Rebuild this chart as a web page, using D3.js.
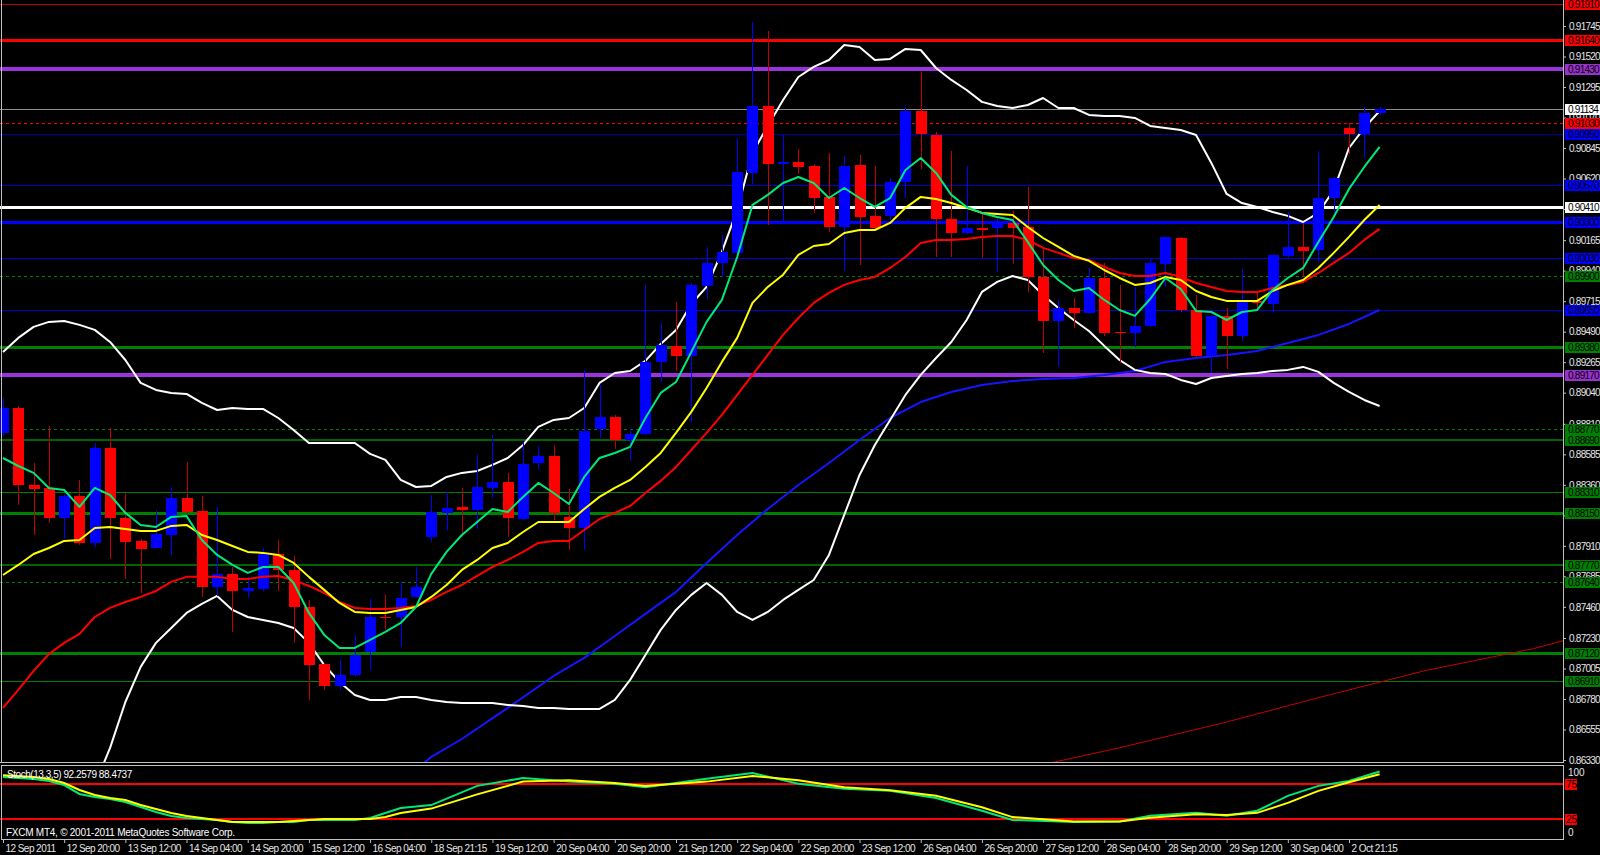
<!DOCTYPE html>
<html><head><meta charset="utf-8">
<script src="https://cdn.jsdelivr.net/npm/d3@7"></script>
<style>html,body{margin:0;padding:0;background:#000;overflow:hidden}svg{display:block}</style>
</head><body>
<svg id="chart" width="1600" height="855"></svg>
<script>
// ---------------- DATA ----------------
const timeTickBars = [0,4,8,12,16,20,24,28,32,36,40,44,48,52,56,60,64,68,72,76,80,84,88];
const timeLabels = ["12 Sep 2011","12 Sep 20:00","13 Sep 12:00","14 Sep 04:00","14 Sep 20:00","15 Sep 12:00","16 Sep 04:00","18 Sep 21:15","19 Sep 12:00","20 Sep 04:00","20 Sep 20:00","21 Sep 12:00","22 Sep 04:00","22 Sep 20:00","23 Sep 12:00","26 Sep 04:00","26 Sep 20:00","27 Sep 12:00","28 Sep 04:00","28 Sep 20:00","29 Sep 12:00","30 Sep 04:00","2 Oct 21:15"];
const priceTicks = [0.91745,0.91520,0.91295,0.91070,0.90845,0.90620,0.90395,0.90165,0.89940,0.89715,0.89490,0.89265,0.89040,0.88810,0.88585,0.88360,0.88135,0.87910,0.87685,0.87460,0.87230,0.87005,0.86780,0.86555,0.86330];

const opens = [0.88743,0.88927,0.88359,0.88337,0.88116,0.88278,0.87931,0.88632,0.88116,0.87946,
0.87894,0.87990,0.88263,0.88167,0.87607,0.87703,0.87577,0.87592,0.87850,0.87732,
0.87459,0.87039,0.86876,0.86958,0.87127,0.87385,0.87385,0.87533,0.87976,0.88153,
0.88197,0.88175,0.88337,0.88381,0.88108,0.88521,0.88573,0.88123,0.88042,0.88772,
0.88861,0.88691,0.88735,0.89267,0.89385,0.89311,0.89827,0.89997,0.90071,0.90661,
0.91155,0.90727,0.90742,0.90712,0.90484,0.90262,0.90720,0.90344,0.90344,0.90594,
0.91118,0.90941,0.90321,0.90218,0.90255,0.90255,0.90292,0.90262,0.89894,0.89569,
0.89665,0.89628,0.89886,0.89488,0.89481,0.89532,0.89990,0.90181,0.89650,0.89311,
0.89606,0.89458,0.89717,0.89694,0.90049,0.90115,0.90093,0.90476,0.90993,0.90949,
0.91103];
const highs = [0.89001,0.88942,0.88521,0.88794,0.88293,0.88396,0.88669,0.88780,0.88300,0.87961,
0.88175,0.88344,0.88529,0.88278,0.88197,0.87754,0.87681,0.87894,0.87953,0.87835,
0.87511,0.87046,0.87076,0.87253,0.87518,0.87548,0.87644,0.87754,0.88285,0.88308,
0.88337,0.88581,0.88728,0.88448,0.88676,0.88647,0.88654,0.88330,0.89208,0.89097,
0.88876,0.88772,0.89835,0.89554,0.89709,0.89849,0.90115,0.90203,0.90919,0.91775,
0.91708,0.90941,0.90838,0.90727,0.90808,0.90786,0.90794,0.90712,0.90624,0.91148,
0.91406,0.90963,0.90823,0.90712,0.90373,0.90336,0.90381,0.90557,0.90115,0.89724,
0.89739,0.89960,0.89997,0.89835,0.89820,0.90026,0.90196,0.90189,0.89761,0.89613,
0.89665,0.89953,0.89790,0.90063,0.90373,0.90292,0.90823,0.90631,0.91030,0.91148,
0.91148];
const lows = [0.88721,0.88212,0.87990,0.88079,0.87961,0.87917,0.87902,0.87813,0.87666,0.87562,
0.87887,0.87843,0.88145,0.87533,0.87540,0.87275,0.87526,0.87577,0.87577,0.87194,
0.86773,0.86847,0.86847,0.86943,0.86994,0.87290,0.87164,0.87526,0.87939,0.88020,
0.87976,0.88035,0.88263,0.87976,0.88101,0.88470,0.88101,0.87880,0.87880,0.88706,
0.88625,0.88536,0.88721,0.89119,0.89200,0.88824,0.89731,0.89894,0.90063,0.90580,
0.90277,0.90299,0.90653,0.90366,0.90226,0.89938,0.89982,0.90248,0.90314,0.90476,
0.90690,0.90041,0.90041,0.90211,0.90034,0.89931,0.89990,0.89783,0.89333,0.89230,
0.89517,0.89621,0.89458,0.89259,0.89377,0.89525,0.89820,0.89635,0.89303,0.89185,
0.89215,0.89421,0.89650,0.89628,0.90034,0.89894,0.90004,0.90336,0.90801,0.90771,
0.91089];
const closes = [0.88927,0.88359,0.88330,0.88116,0.88278,0.87931,0.88632,0.88116,0.87939,0.87887,
0.87998,0.88263,0.88160,0.87607,0.87703,0.87577,0.87599,0.87850,0.87732,0.87459,
0.87031,0.86876,0.86958,0.87105,0.87385,0.87378,0.87526,0.87607,0.88160,0.88190,
0.88175,0.88344,0.88381,0.88116,0.88514,0.88573,0.88153,0.88042,0.88758,0.88861,
0.88691,0.88735,0.89267,0.89392,0.89311,0.89835,0.89997,0.90078,0.90668,0.91155,
0.90727,0.90742,0.90705,0.90476,0.90262,0.90712,0.90336,0.90255,0.90594,0.91118,
0.90949,0.90321,0.90218,0.90255,0.90240,0.90292,0.90255,0.89894,0.89569,0.89665,
0.89628,0.89886,0.89481,0.89481,0.89532,0.89997,0.90189,0.89650,0.89311,0.89606,
0.89458,0.89709,0.89702,0.90056,0.90115,0.90085,0.90476,0.90624,0.90949,0.91103,
0.91134];

const maFast = [0.88558,0.88499,0.88448,0.88337,0.88322,0.88197,0.88337,0.88285,0.88153,0.88064,
0.88049,0.88123,0.88130,0.87953,0.87843,0.87769,0.87710,0.87754,0.87754,0.87636,
0.87415,0.87253,0.87157,0.87157,0.87216,0.87275,0.87341,0.87459,0.87703,0.87865,
0.87990,0.88086,0.88182,0.88160,0.88271,0.88374,0.88300,0.88219,0.88418,0.88558,
0.88595,0.88640,0.88853,0.89038,0.89119,0.89340,0.89562,0.89724,0.90041,0.90425,
0.90499,0.90587,0.90631,0.90587,0.90476,0.90550,0.90476,0.90410,0.90476,0.90683,
0.90771,0.90661,0.90499,0.90410,0.90366,0.90336,0.90314,0.90152,0.89982,0.89871,
0.89790,0.89812,0.89724,0.89650,0.89606,0.89731,0.89886,0.89805,0.89643,0.89635,
0.89576,0.89635,0.89650,0.89798,0.89886,0.89960,0.90152,0.90336,0.90543,0.90705,
0.90853];
const maMid = [0.87695,0.87769,0.87850,0.87894,0.87946,0.87953,0.88042,0.88049,0.88035,0.88020,
0.88020,0.88057,0.88064,0.87990,0.87953,0.87909,0.87865,0.87858,0.87843,0.87784,
0.87681,0.87585,0.87489,0.87422,0.87415,0.87415,0.87437,0.87459,0.87533,0.87621,
0.87732,0.87806,0.87894,0.87931,0.88012,0.88086,0.88086,0.88086,0.88182,0.88271,
0.88337,0.88396,0.88492,0.88595,0.88743,0.88898,0.89075,0.89267,0.89444,0.89702,
0.89820,0.89910,0.90056,0.90122,0.90137,0.90218,0.90240,0.90240,0.90292,0.90403,
0.90484,0.90469,0.90439,0.90403,0.90366,0.90358,0.90351,0.90262,0.90181,0.90115,
0.90049,0.90013,0.89945,0.89886,0.89835,0.89849,0.89894,0.89871,0.89790,0.89746,
0.89717,0.89717,0.89717,0.89790,0.89835,0.89871,0.89960,0.90071,0.90189,0.90314,
0.90425];
const maSlow = [0.86714,0.86847,0.86987,0.87112,0.87194,0.87260,0.87385,0.87452,0.87496,0.87533,
0.87577,0.87644,0.87681,0.87681,0.87681,0.87666,0.87666,0.87681,0.87688,0.87658,
0.87614,0.87562,0.87496,0.87452,0.87444,0.87444,0.87452,0.87467,0.87511,0.87570,
0.87621,0.87688,0.87754,0.87806,0.87865,0.87931,0.87946,0.87946,0.88027,0.88108,
0.88153,0.88204,0.88300,0.88389,0.88492,0.88617,0.88743,0.88876,0.89023,0.89171,
0.89318,0.89466,0.89591,0.89702,0.89776,0.89835,0.89871,0.89894,0.89960,0.90041,
0.90144,0.90167,0.90167,0.90174,0.90189,0.90196,0.90196,0.90167,0.90108,0.90071,
0.90034,0.90019,0.89968,0.89923,0.89901,0.89901,0.89923,0.89894,0.89849,0.89820,
0.89790,0.89783,0.89783,0.89812,0.89835,0.89857,0.89923,0.89997,0.90071,0.90167,
0.90248];
const bbUpper = [0.89340,0.89444,0.89525,0.89562,0.89569,0.89540,0.89503,0.89414,0.89281,0.89112,
0.89060,0.89038,0.89031,0.88964,0.88912,0.88927,0.88920,0.88920,0.88853,0.88765,
0.88669,0.88669,0.88669,0.88669,0.88588,0.88544,0.88396,0.88344,0.88352,0.88418,
0.88448,0.88462,0.88507,0.88558,0.88654,0.88787,0.88839,0.88853,0.88927,0.89112,
0.89185,0.89200,0.89274,0.89399,0.89503,0.89694,0.89820,0.90078,0.90388,0.90808,
0.91008,0.91199,0.91369,0.91443,0.91494,0.91605,0.91590,0.91494,0.91502,0.91576,
0.91568,0.91435,0.91347,0.91273,0.91185,0.91155,0.91140,0.91162,0.91214,0.91140,
0.91140,0.91089,0.91081,0.91081,0.91067,0.91008,0.90993,0.90978,0.90941,0.90735,
0.90506,0.90439,0.90410,0.90373,0.90344,0.90299,0.90366,0.90535,0.90845,0.90993,
0.91118];
const bbLower = [null,null,null,null,null,null,0.86146,0.86419,0.86758,0.87017,
0.87194,0.87304,0.87415,0.87481,0.87540,0.87437,0.87385,0.87363,0.87341,0.87304,
0.87194,0.87031,0.86906,0.86810,0.86773,0.86773,0.86795,0.86795,0.86773,0.86758,
0.86751,0.86751,0.86751,0.86736,0.86729,0.86714,0.86714,0.86707,0.86707,0.86707,
0.86773,0.86921,0.87105,0.87290,0.87437,0.87548,0.87636,0.87548,0.87422,0.87363,
0.87422,0.87511,0.87585,0.87658,0.87843,0.88138,0.88433,0.88654,0.88839,0.89023,
0.89171,0.89296,0.89414,0.89576,0.89783,0.89857,0.89901,0.89871,0.89761,0.89665,
0.89576,0.89495,0.89385,0.89281,0.89208,0.89185,0.89178,0.89134,0.89104,0.89148,
0.89163,0.89178,0.89185,0.89200,0.89208,0.89230,0.89193,0.89112,0.89045,0.88986,
0.88942];
const maLongBars = [27,28,30,33,36,38,40,42,44,46,48,50,52,54,56,58,60,62,64,66,68,70,72,74,76,78,80,82,84,86,88,90];
const maLongVals = [0.86257,0.86353,0.86485,0.86714,0.86950,0.87083,0.87245,0.87408,0.87570,0.87784,0.87990,0.88182,0.88359,0.88521,0.88691,0.88853,0.88971,0.89045,0.89097,0.89126,0.89141,0.89148,0.89171,0.89200,0.89267,0.89296,0.89318,0.89348,0.89407,0.89466,0.89547,0.89650];
const maShiftBars = [67,73,80,86,93,100,103];
const maShiftVals = [0.86272,0.86420,0.86610,0.86790,0.86990,0.87150,0.87240];

const stochKBars = [0,2,3,4,5,6,7,8,9,10,11,12,13,14,15,16,17,18,19,20,22,23,24,25,26,28,31,34,37,40,42,46,49,52,55,58,61,64,66,70,73,75,78,80,82,84,86,88,90];
const stochKVals = [84.5,81.7,78.9,73.2,60.6,56.3,53.5,49.3,42.3,35.2,29.6,26.8,25.4,23.9,21.1,19.7,19.7,21.1,21.1,23.9,23.9,23.9,26.8,33.8,40.8,45,72,83,78,75,70,82,90,75,68,65,55,37,24,21,22,30,34,30,37,58,72,79,92.26];
const stochDBars = [0,2,3,4,5,6,7,8,9,10,11,12,13,14,15,18,19,20,21,24,25,26,28,31,34,37,40,42,46,49,52,55,58,61,64,66,70,73,75,78,80,82,84,86,88,90];
const stochDVals = [87,84.5,81.7,76,66.2,59.2,54.9,52.1,45.1,39.4,33.8,29.6,26.8,23.9,21.1,21.1,22.5,23.9,25.4,25.4,28.2,33.8,40,60,78,80,76,72,78,86,80,70,66,58,42,28,22,22,27,32,31,34,48,65,77,88.47];

const levelPrices = [0.91910,0.91640,0.91430,0.91030,0.90950,0.90570,0.90410,0.90300,0.90030,0.89900,0.89650,0.89380,0.89170,0.88770,0.88690,0.88310,0.88150,0.87770,0.87640,0.87120,0.86910];
const levelKinds  = ["redThin","red","purple","redDash","navy","blue1","white","blue3","blue1","greenDash","blue1","green3","purple","greenDash","green2","green1","green3","green2","greenDash","green3","green1"];
const bidPrice = 0.91134;
const stochLevels = [75,25];
const stochScaleLabels = [100,0];
const stochParams = "Stoch(13,3,5)";
const stochLast = [92.2579, 88.4737];

// ---------------- STYLES ----------------
const kindStyle = {
  redThin:{c:"#c00000",w:1,d:null,bg:"#ff0000"},
  red:{c:"#ff0000",w:3,d:null,bg:"#ff0000"},
  purple:{c:"#9933dd",w:4,d:null,bg:"#9932cc"},
  redDash:{c:"#ff0000",w:1,d:"3,3",bg:"#ff0000"},
  navy:{c:"#0000a8",w:1,d:null,bg:"#0000ff"},
  blue1:{c:"#0000d0",w:1,d:null,bg:"#0000ff"},
  blue3:{c:"#0000ff",w:3,d:null,bg:"#0000ff"},
  white:{c:"#ffffff",w:3,d:null,bg:"#ffffff"},
  greenDash:{c:"#008000",w:1,d:"3,3",bg:"#008000"},
  green1:{c:"#008000",w:1,d:null,bg:"#008000"},
  green2:{c:"#006400",w:2,d:null,bg:"#008000"},
  green3:{c:"#008000",w:3,d:null,bg:"#008000"}
};
const FONT = "Liberation Sans, Arial, sans-serif";
const AXIS_TXT = "#e6e6e6";
const FRAME = "#c0c0c0";

// ---------------- LAYOUT ----------------
const plotR = 1563, mainB = 762, stT = 765, stB = 839;
const svg = d3.select("#chart");
svg.append("rect").attr("width",1600).attr("height",855).attr("fill","#000");

const x = d3.scaleLinear().domain([0,88]).range([3,1349]);
const y = d3.scaleLinear().domain([0.86330,0.91745]).range([760,26]);
const ys = d3.scaleLinear().domain([0,100]).range([837,766]);

const defs = svg.append("defs");
defs.append("clipPath").attr("id","clipMain").append("rect").attr("x",0).attr("y",0).attr("width",plotR).attr("height",mainB);
defs.append("clipPath").attr("id","clipStoch").append("rect").attr("x",0).attr("y",stT).attr("width",plotR).attr("height",stB-stT);

const gMain = svg.append("g").attr("clip-path","url(#clipMain)");

levelPrices.forEach((p,i)=>{
  const s = kindStyle[levelKinds[i]];
  const yy = Math.round(y(p))+(s.w%2?0.5:0);
  gMain.append("line").attr("x1",0).attr("x2",plotR).attr("y1",yy).attr("y2",yy)
    .attr("stroke",s.c).attr("stroke-width",s.w).attr("stroke-dasharray",s.d);
});
gMain.append("line").attr("x1",0).attr("x2",plotR).attr("y1",Math.round(y(bidPrice))+0.5).attr("y2",Math.round(y(bidPrice))+0.5)
  .attr("stroke","#8c8c8c").attr("stroke-width",1);

const lineArr = d3.line().defined(d=>d[1]!=null).x(d=>x(d[0])).y(d=>y(d[1]));
function drawSeries(vals, color, w){
  gMain.append("path").datum(vals.map((v,i)=>[i,v])).attr("d",lineArr)
    .attr("fill","none").attr("stroke",color).attr("stroke-width",w).attr("stroke-linejoin","round");
}
function drawPairs(bars, vals, color, w){
  gMain.append("path").datum(bars.map((b,i)=>[b,vals[i]])).attr("d",lineArr)
    .attr("fill","none").attr("stroke",color).attr("stroke-width",w).attr("stroke-linejoin","round");
}

drawPairs(maShiftBars, maShiftVals, "#c80000", 1);
drawPairs(maLongBars, maLongVals, "#1515ff", 2);
drawSeries(bbUpper, "#ffffff", 2);
drawSeries(bbLower, "#ffffff", 2);

const gC = gMain.append("g");
opens.forEach((o,i)=>{
  const c = closes[i], up = c>=o;
  const cx = Math.round(x(i));
  gC.append("line").attr("x1",cx+0.5).attr("x2",cx+0.5).attr("y1",y(highs[i])).attr("y2",y(lows[i]))
    .attr("stroke", up?"#0000ff":"#c00000").attr("stroke-width",1);
  const top = Math.round(y(Math.max(o,c))), bot = Math.round(y(Math.min(o,c)));
  gC.append("rect").attr("x",cx-5).attr("y",top).attr("width",11).attr("height",Math.max(1,bot-top))
    .attr("fill", up?"#0000ff":"#ff0000");
});

drawSeries(maSlow, "#ff0000", 2);
drawSeries(maMid, "#ffff00", 2);
drawSeries(maFast, "#00e878", 2);

// ---------------- STOCH PANEL ----------------
const gS = svg.append("g").attr("clip-path","url(#clipStoch)");
stochLevels.forEach(v=>{
  gS.append("line").attr("x1",0).attr("x2",plotR).attr("y1",Math.round(ys(v))).attr("y2",Math.round(ys(v)))
    .attr("stroke","#ff0000").attr("stroke-width",2);
});
const lineS = d3.line().x(d=>x(d[0])).y(d=>ys(d[1]));
gS.append("path").datum(stochKBars.map((b,i)=>[b,stochKVals[i]])).attr("d",lineS).attr("fill","none").attr("stroke","#00e878").attr("stroke-width",2);
gS.append("path").datum(stochDBars.map((b,i)=>[b,stochDVals[i]])).attr("d",lineS).attr("fill","none").attr("stroke","#ffff00").attr("stroke-width",2);

svg.append("text").attr("x",7).attr("y",778).attr("fill","#ffffff").attr("font-family",FONT).attr("font-size",10)
  .attr("letter-spacing","-0.45").text(`${stochParams} ${stochLast[0].toFixed(4)} ${stochLast[1].toFixed(4)}`);
svg.append("text").attr("x",6).attr("y",836).attr("fill","#ffffff").attr("font-family",FONT).attr("font-size",10)
  .attr("letter-spacing","-0.25").text("FXCM MT4, © 2001-2011 MetaQuotes Software Corp.");

// ---------------- FRAMES ----------------
const fr = svg.append("g").attr("stroke",FRAME).attr("stroke-width",1).attr("fill","none");
fr.append("line").attr("x1",1.5).attr("x2",1.5).attr("y1",0).attr("y2",mainB);
fr.append("line").attr("x1",0).attr("x2",plotR+1).attr("y1",mainB+0.5).attr("y2",mainB+0.5);
fr.append("line").attr("x1",plotR+0.5).attr("x2",plotR+0.5).attr("y1",0).attr("y2",mainB+1);
fr.append("rect").attr("x",1.5).attr("y",stT+0.5).attr("width",plotR-1).attr("height",stB-stT);

// ---------------- PRICE AXIS ----------------
const pAxis = svg.append("g").attr("transform",`translate(${plotR},0)`)
  .call(d3.axisRight(y).tickValues(priceTicks).tickFormat(d3.format(".5f")).tickSize(3).tickPadding(3));
pAxis.select(".domain").remove();
pAxis.selectAll("line").attr("stroke",FRAME);
pAxis.selectAll("text").attr("fill",AXIS_TXT).attr("font-family",FONT).attr("font-size",10).attr("letter-spacing","-0.75");

function priceLabel(p,bg,fg){
  const yy = Math.round(y(p));
  svg.append("rect").attr("x",1565).attr("y",yy-5).attr("width",40).attr("height",11).attr("fill",bg);
  svg.append("text").attr("x",1568).attr("y",yy+4).attr("fill",fg).attr("font-family",FONT).attr("font-size",10)
    .attr("letter-spacing","-0.75").text(d3.format(".5f")(p));
}
levelPrices.forEach((p,i)=>priceLabel(p, kindStyle[levelKinds[i]].bg, "#000"));
priceLabel(bidPrice, "#ffffff", "#000");

stochScaleLabels.forEach(v=>{
  svg.append("text").attr("x",1568).attr("y", v===100? ys(v)+10 : ys(v)-1).attr("fill",AXIS_TXT)
    .attr("font-family",FONT).attr("font-size",10).text(v);
});
stochLevels.forEach(v=>{
  const yy = Math.round(ys(v));
  svg.append("rect").attr("x",1565).attr("y",yy-5).attr("width",12).attr("height",11).attr("fill","#ff0000");
  svg.append("text").attr("x",1566).attr("y",yy+4).attr("fill","#000").attr("font-family",FONT).attr("font-size",10).text(v);
});

// ---------------- TIME AXIS ----------------
const tAxis = svg.append("g").attr("transform",`translate(0,${stB})`)
  .call(d3.axisBottom(x).tickValues(timeTickBars).tickFormat((d,i)=>timeLabels[i]).tickSize(4).tickPadding(2));
tAxis.select(".domain").remove();
tAxis.selectAll("line").attr("stroke",FRAME);
tAxis.selectAll("text").attr("fill",AXIS_TXT).attr("font-family",FONT).attr("font-size",10)
  .attr("text-anchor","start").attr("dx",2).attr("letter-spacing","-0.55");
</script>
</body></html>
